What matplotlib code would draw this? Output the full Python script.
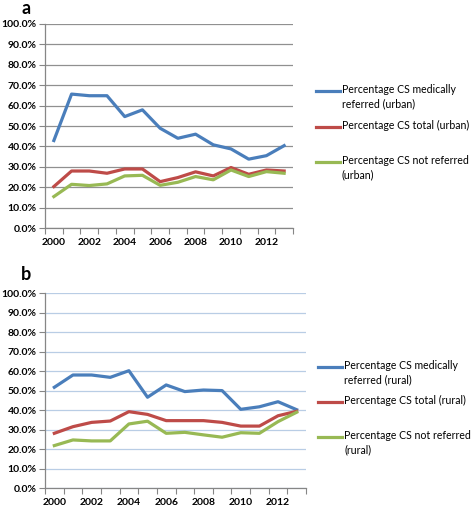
import matplotlib
matplotlib.use("Agg")
import matplotlib.pyplot as plt
from matplotlib.lines import Line2D

years = list(range(2000, 2014))
year_labels = [str(y) if y % 2 == 0 else "" for y in years]

urban_referred = [42.9, 65.6, 64.8, 64.8, 54.6, 57.9, 48.9, 44.0, 46.0, 40.8, 38.8, 33.8, 35.5, 40.4]
urban_total = [20.4, 28.0, 28.0, 26.9, 29.0, 29.0, 22.8, 24.8, 27.6, 25.6, 29.7, 26.4, 28.5, 28.0]
urban_not = [15.5, 21.5, 20.9, 21.7, 25.6, 25.9, 21.0, 22.5, 25.3, 23.7, 28.5, 25.3, 27.7, 26.9]

rural_referred = [51.8, 58.1, 58.1, 56.9, 60.3, 46.7, 53.0, 49.6, 50.4, 50.1, 40.5, 41.8, 44.4, 40.3]
rural_total = [28.2, 31.6, 33.8, 34.5, 39.3, 37.9, 34.7, 34.7, 34.7, 33.8, 31.9, 31.9, 37.2, 39.5]
rural_not = [21.9, 24.8, 24.3, 24.3, 33.0, 34.4, 28.2, 28.7, 27.4, 26.2, 28.5, 28.2, 34.2, 39.0]

labels_urban = ["Percentage CS medically\nreferred (urban)", "Percentage CS total (urban)",
                "Percentage CS not referred\n(urban)"]
labels_rural = ["Percentage CS medically\nreferred (rural)", "Percentage CS total (rural)",
                "Percentage CS not referred\n(rural)"]
yticks = [0, 10, 20, 30, 40, 50, 60, 70, 80, 90, 100]

colors = ["#4A7EBB", "#BE4B48", "#98B954"]
FONT = "Lato"
W, H = 473, 507

fig = plt.figure(figsize=(W / 100, H / 100), dpi=100)


def fx(px):
    return px / W


def fy(py):
    return 1 - py / H


def make_panel(rect, series, labels, grid_color, letter, letter_y, leg_x, leg_ys):
    left, top, right, bottom = rect
    ax = fig.add_axes([fx(left), fy(bottom), fx(right) - fx(left), fy(top) - fy(bottom)])
    x = list(range(len(years)))
    for s, c in zip(series, colors):
        ax.plot(x, s, color=c, lw=2.3, solid_joinstyle="round", zorder=3)
    ax.set_xlim(-0.5, len(years) - 0.5)
    ax.set_ylim(0, 100)
    ax.set_yticks(yticks)
    ax.set_yticklabels([f"{v:.1f}%" for v in yticks], fontsize=7.5, fontweight="bold", family=FONT)
    ax.set_xticks(x)
    ax.set_xticklabels(year_labels, fontsize=7.5, fontweight="bold", family=FONT)
    ax.tick_params(axis="x", which="major", length=0, pad=7)
    ax.set_xticks([i - 0.5 for i in range(len(years) + 1)], minor=True)
    ax.tick_params(axis="x", which="minor", length=4, color="#868686", width=0.8)
    ax.tick_params(axis="y", length=4, color="#868686", width=0.8, pad=2)
    ax.grid(axis="y", color=grid_color, lw=0.9, zorder=0)
    for sp in ["top", "right"]:
        ax.spines[sp].set_visible(False)
    for sp in ["left", "bottom"]:
        ax.spines[sp].set_color("#868686")
        ax.spines[sp].set_linewidth(0.9)
    fig.text(fx(21), fy(letter_y), letter, fontsize=13, fontweight="bold", family=FONT,
             va="center", ha="left")
    for lab, c, ly in zip(labels, colors, leg_ys):
        fig.add_artist(Line2D([fx(leg_x), fx(leg_x + 24)], [fy(ly), fy(ly)], color=c, lw=2.3))
        fig.text(fx(leg_x + 26), fy(ly - 7), lab, fontsize=7.6, family=FONT, va="top",
                 ha="left", linespacing=1.35)
    return ax


make_panel((45, 23.7, 293, 228.3), [urban_referred, urban_total, urban_not], labels_urban,
           "#909090", "a", 8.5, 316, [90.7, 127, 162])
make_panel((45, 293.3, 306, 488.3), [rural_referred, rural_total, rural_not], labels_rural,
           "#B9CDE5", "b", 274, 318, [366.7, 402, 437])

fig.savefig("out.png", dpi=100)
